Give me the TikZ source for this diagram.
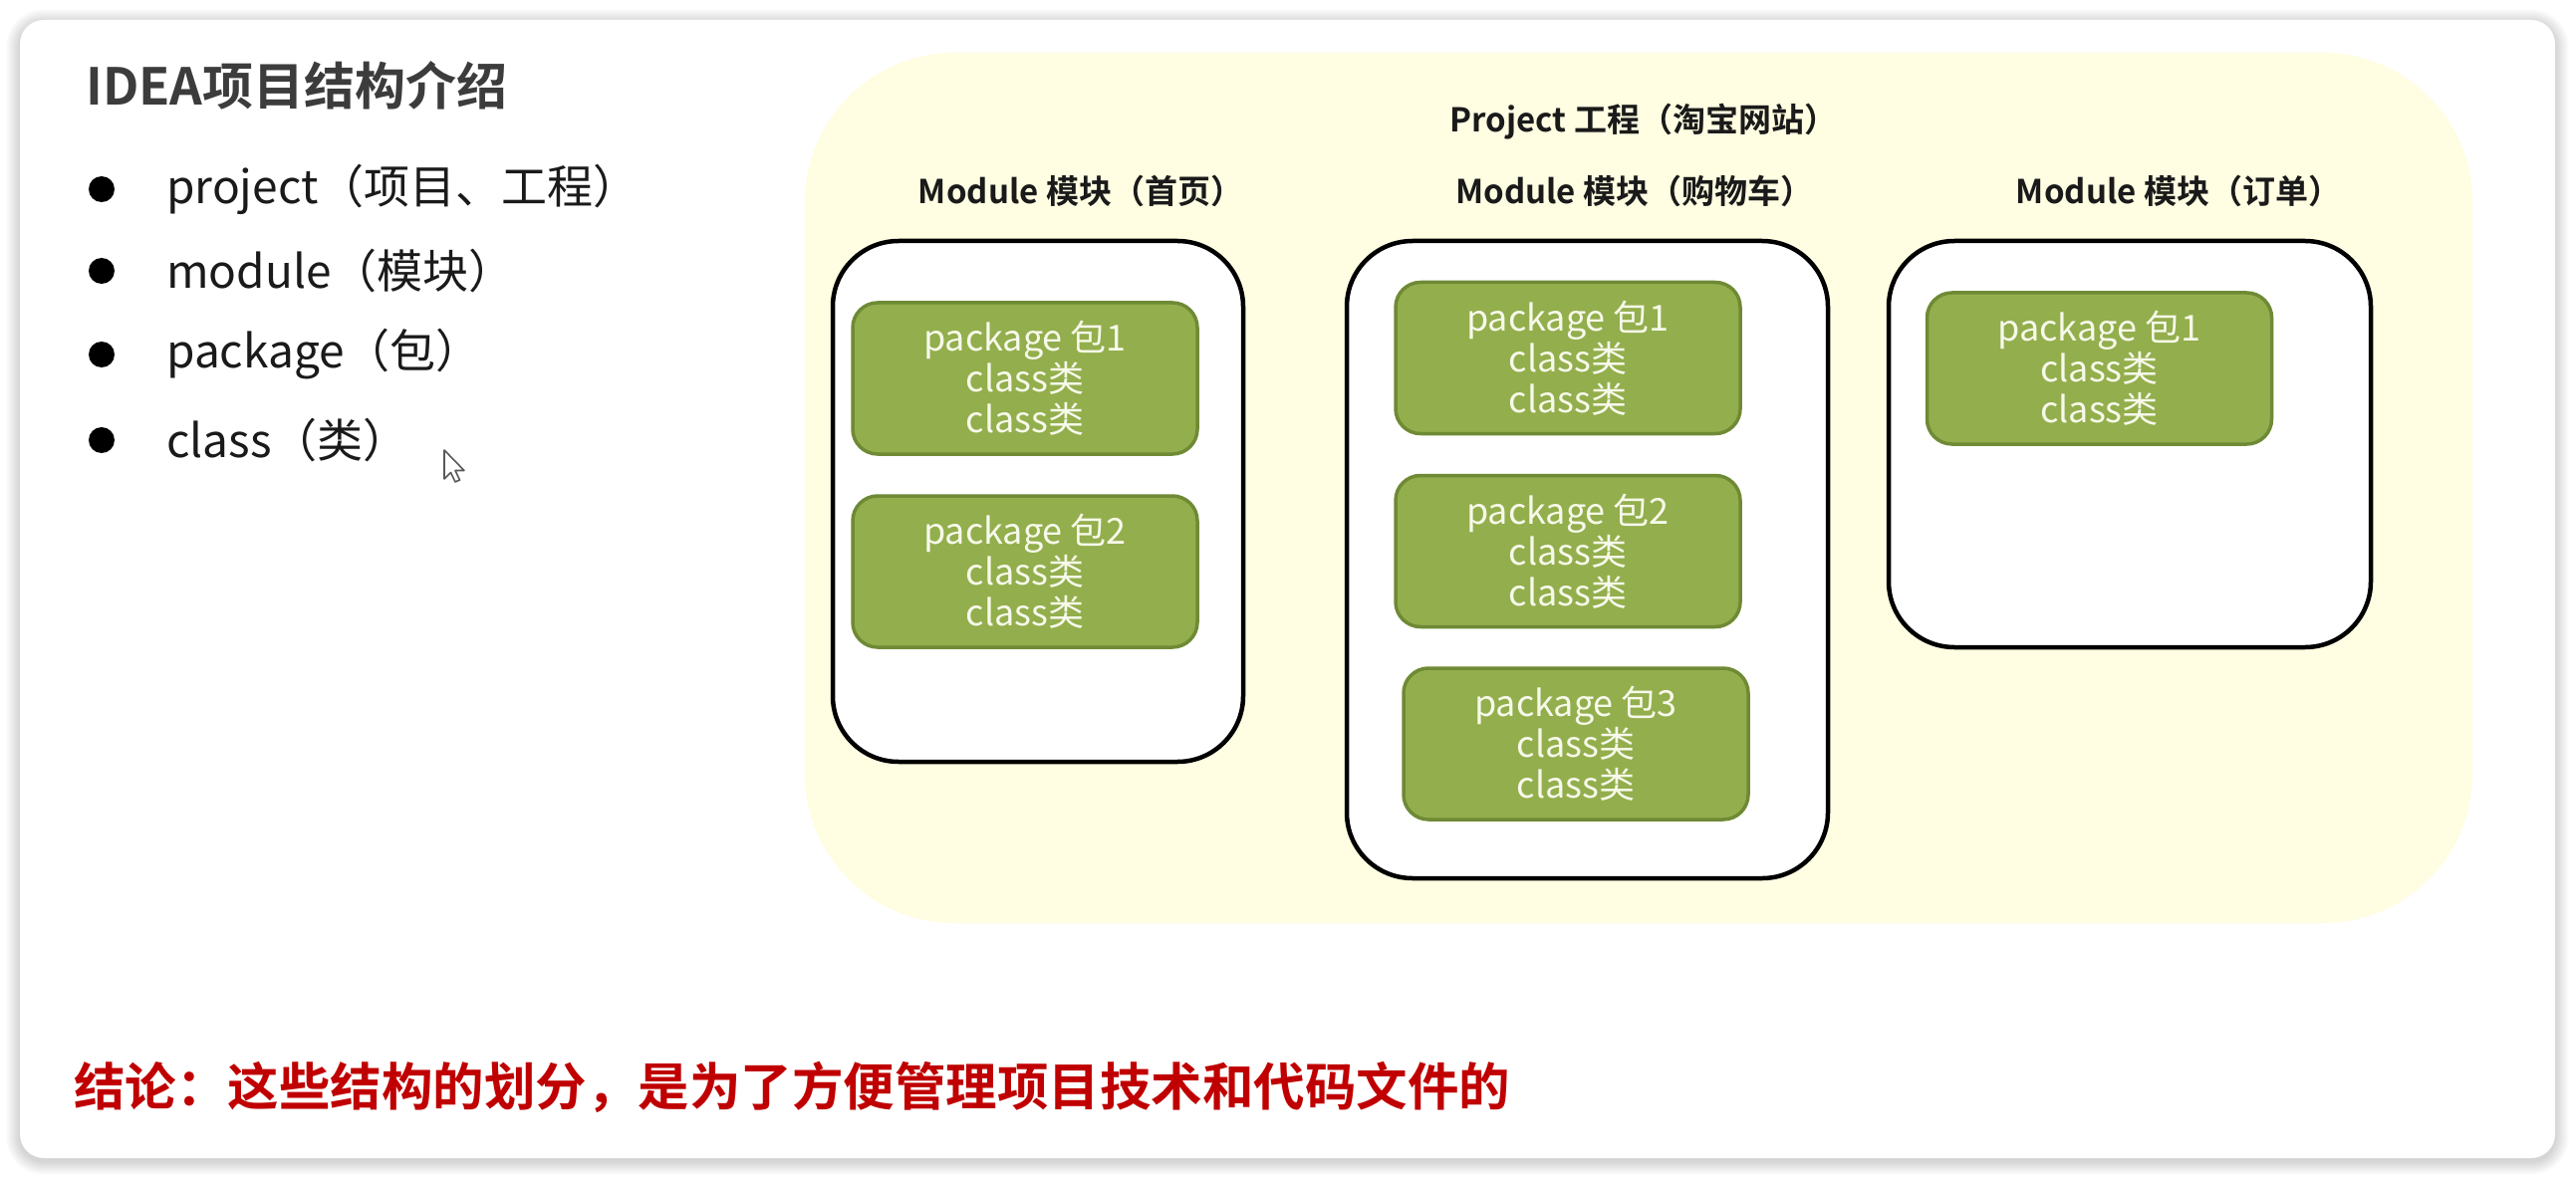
\documentclass[tikz,border=0pt]{standalone}
\usepackage{fontspec}
\setmainfont{Noto Sans CJK SC}[BoldFont={Noto Sans CJK SC Bold}]
\definecolor{cardshadow}{HTML}{000000}
\definecolor{projfill}{HTML}{FFFDE2}
\definecolor{pkgfill}{HTML}{93AE4C}
\definecolor{pkgborder}{HTML}{6F8A35}
\definecolor{pkgtext}{HTML}{F6F9EA}
\definecolor{titlegray}{HTML}{3C3C3C}
\definecolor{bodyblack}{HTML}{1A1A1A}
\definecolor{concred}{HTML}{C00000}
\begin{document}
\begin{tikzpicture}[x=1pt,y=-1pt,
  modbox/.style={draw=black, line width=4.5pt, fill=white, rounded corners=66pt, inner sep=0pt},
  pkgbox/.style={draw=pkgborder, line width=3.5pt, fill=pkgfill, rounded corners=25pt,
    text=pkgtext, font=\fontsize{36}{41}\selectfont, align=center,
    minimum width=346pt, minimum height=152pt, inner sep=0pt},
  modlabel/.style={font=\bfseries\fontsize{33}{38}\selectfont, text=bodyblack, inner sep=0pt},
  bulletdot/.style={circle, fill=black, minimum size=26pt, inner sep=0pt},
  bullettext/.style={anchor=west, font=\fontsize{46}{54}\selectfont, text=bodyblack, inner sep=0pt}
]
\useasboundingbox (0,0) rectangle (2586,1182);
\fill[white] (0,0) rectangle (2586,1182);
% card shadow
\foreach \i in {1,...,14}{
  \pgfmathsetmacro\rr{24+\i}
  \fill[cardshadow, opacity=0.010, rounded corners=\rr pt] (20-\i,20-\i+3) rectangle (2565+\i,1163+\i+3);
}
\node[draw=none, fill=white, rounded corners=24pt, minimum width=2545pt, minimum height=1143pt, inner sep=0pt] (card) at (1292.5,591.5) {};

% title and bullets
\node[anchor=west, font=\bfseries\fontsize{51}{60}\selectfont, text=titlegray, inner sep=0pt] (title) at (86,86) {IDEA项目结构介绍};

\node[bulletdot] (b1) at (102,190) {};
\node[bullettext] (t1) at (167,190) {project（项目、工程）};
\node[bulletdot] (b2) at (102,272) {};
\node[bullettext] (t2) at (167,272) {module（模块）};
\node[bulletdot] (b3) at (102,356) {};
\node[bullettext] (t3) at (167,356) {package（包）};
\node[bulletdot] (b4) at (102,442) {};
\node[bullettext] (t4) at (167,442) {class（类）};

% mouse cursor
\draw[fill=white, draw=gray!70!black, line width=1.6pt, line join=round]
  (446,452) -- (446,481) -- (452.5,474.5) -- (457,484) -- (461.5,482) -- (457,472.5) -- (466,472.5) -- cycle;

% project area
\node[fill=projfill, rounded corners=150pt, minimum width=1674pt, minimum height=874pt, inner sep=0pt] (proj) at (1645,490) {};
\node[modlabel] (projlabel) at (1650,122) {Project 工程（淘宝网站）};

% module labels
\node[modlabel] (ml1) at (1085,192) {Module 模块（首页）};
\node[modlabel] (ml2) at (1641,192) {Module 模块（购物车）};
\node[modlabel] (ml3) at (2187,192) {Module 模块（订单）};

% module boxes
\node[modbox, minimum width=412pt, minimum height=523pt] (m1) at (1042,503.5) {};
\node[modbox, minimum width=483pt, minimum height=640pt] (m2) at (1593.5,562) {};
\node[modbox, minimum width=484pt, minimum height=408pt] (m3) at (2138,446) {};

% packages
\node[pkgbox] (p11) at (1029,380) {package 包1\\class类\\class类};
\node[pkgbox] (p12) at (1029,574) {package 包2\\class类\\class类};
\node[pkgbox] (p21) at (1574,359.5) {package 包1\\class类\\class类};
\node[pkgbox] (p22) at (1574,553.5) {package 包2\\class类\\class类};
\node[pkgbox] (p23) at (1582,747) {package 包3\\class类\\class类};
\node[pkgbox] (p31) at (2107.5,370) {package 包1\\class类\\class类};

% conclusion
\node[anchor=west, font=\bfseries\fontsize{51.5}{60}\selectfont, text=concred, inner sep=0pt] (concl) at (74,1092) {结论：这些结构的划分，是为了方便管理项目技术和代码文件的};
\end{tikzpicture}
\end{document}
